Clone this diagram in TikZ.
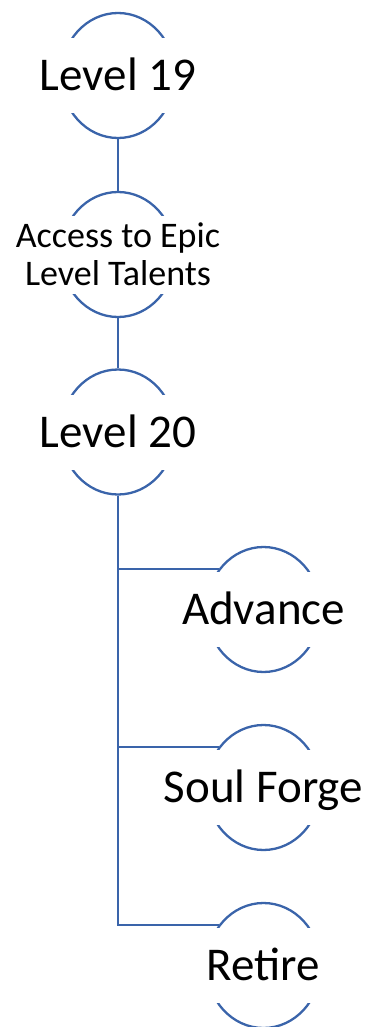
\documentclass[tikz,border=0pt]{standalone}
\usepackage{fontspec}
\setmainfont{Carlito}
\usetikzlibrary{shapes.geometric}
\definecolor{ringblue}{HTML}{3A64AA}

\begin{document}
\begin{tikzpicture}
      [%%%%%%%%%%%%%%%%%%%%%%%%%%%%%%
          x=1pt, y=-1pt,
          ring/.style={ellipse, draw=ringblue, line width=2.3pt,
                       minimum width=114pt, minimum height=125pt, inner sep=0pt},
          txtbox/.style={rectangle, fill=white, minimum width=130pt,
                         minimum height=75pt, inner sep=0pt, align=center},
          bigtxt/.style={txtbox, font=\fontsize{47}{50}\selectfont,
                         text height=30pt, text depth=0pt},
          smalltxt/.style={txtbox, minimum height=78pt,
                           font=\fontsize{36}{37.7}\selectfont},
          link/.style={draw=ringblue, line width=2.3pt}
      ]%%%%%%%%%%%%%%%%%%%%%%%%%%%%%%

  \useasboundingbox (0,0) rectangle (368,1027);

  \node[ring] (lvl19) at (118,75.5){};
  \node[ring] (epic) at (118,254.5){};
  \node[ring] (lvl20) at (118,432){};

  \foreach \n/\y in {advance/609.5, forge/787.5, retire/965.5}
      \node[ring] (\n) at (263.5,\y){};

  \draw[link] (lvl19.south) -- (epic.north);
  \draw[link] (epic.south) -- (lvl20.north);
  \foreach \n in {advance,forge,retire}
      \draw[link] (lvl20.south) |- (\n.138);

  \node[bigtxt] (lvl19txt) at (lvl19) {Level 19};
  \node[smalltxt] (epictxt) at (epic) {Access to Epic\\Level Talents};
  \node[bigtxt] (lvl20txt) at (lvl20) {Level 20};

  \foreach \n/\t in {advance/Advance, forge/Soul Forge, retire/Retire}
      \node[bigtxt] (\n txt) at (\n) {\t};

\end{tikzpicture}
\end{document}
